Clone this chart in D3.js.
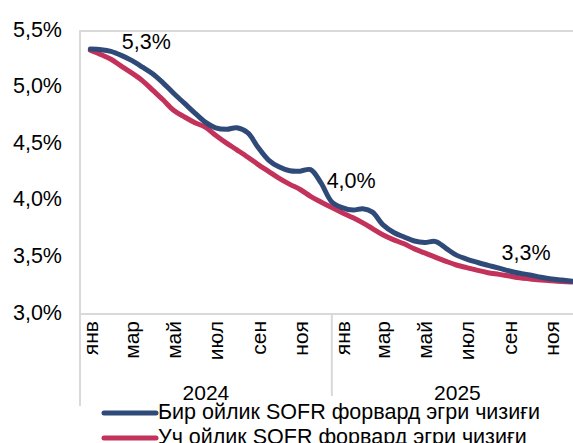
<!DOCTYPE html>
<html>

<head>
    <meta charset="utf-8">
    <script src="https://d3js.org/d3.v7.min.js"></script>
    <style>
        body { margin: 0; background: #fff; }
        text { font-family: "Liberation Sans", Arial, sans-serif; fill: #000; }
    </style>
</head>

<body>
    <svg id="chart" width="573" height="443"></svg>
    <script>
        // half-month points, mid-Jan 2024 .. mid-Dec 2025
        const dates = [
            "2024-01-16", "2024-02-01", "2024-02-15", "2024-03-01", "2024-03-16", "2024-04-01",
            "2024-04-16", "2024-05-01", "2024-05-16", "2024-06-01", "2024-06-16", "2024-07-01",
            "2024-07-16", "2024-08-01", "2024-08-16", "2024-09-01", "2024-09-16", "2024-10-01",
            "2024-10-16", "2024-11-01", "2024-11-16", "2024-12-01", "2024-12-16", "2025-01-01",
            "2025-01-16", "2025-02-01", "2025-02-15", "2025-03-01", "2025-03-16", "2025-04-01",
            "2025-04-16", "2025-05-01", "2025-05-16", "2025-06-01", "2025-06-16", "2025-07-01",
            "2025-07-16", "2025-08-01", "2025-08-16", "2025-09-01", "2025-09-16", "2025-10-01",
            "2025-10-16", "2025-11-01", "2025-11-16", "2025-12-01", "2025-12-16"
        ];
        // one-month SOFR forward curve, %
        const sofr1m = [
            5.34, 5.335, 5.32, 5.285, 5.24, 5.18, 5.12, 5.04, 4.95, 4.86, 4.775, 4.695,
            4.645, 4.632, 4.645, 4.60, 4.47, 4.36, 4.30, 4.265, 4.262, 4.275, 4.16, 3.99,
            3.94, 3.918, 3.93, 3.90, 3.79, 3.72, 3.68, 3.645, 3.632, 3.64, 3.58, 3.52,
            3.485, 3.455, 3.43, 3.405, 3.38, 3.36, 3.345, 3.325, 3.31, 3.30, 3.29
        ];
        // three-month SOFR forward curve, %
        const sofr3m = [
            5.33, 5.29, 5.25, 5.19, 5.13, 5.06, 4.975, 4.89, 4.80, 4.74, 4.69, 4.65,
            4.58, 4.51, 4.45, 4.385, 4.32, 4.26, 4.20, 4.145, 4.10, 4.04, 3.99, 3.94,
            3.895, 3.85, 3.805, 3.755, 3.70, 3.655, 3.62, 3.575, 3.54, 3.50, 3.465, 3.433,
            3.41, 3.385, 3.365, 3.35, 3.335, 3.32, 3.31, 3.30, 3.293, 3.287, 3.283
        ];
        const yTicks = [3.0, 3.5, 4.0, 4.5, 5.0, 5.5];
        const monthLabels = ["янв", "мар", "май", "июл", "сен", "ноя"];
        const years = ["2024", "2025"];
        const seriesNames = ["Бир ойлик SOFR форвард эгри чизиғи", "Уч ойлик SOFR форвард эгри чизиғи"];
        const seriesColors = ["#2f4a78", "#c3325a"];
        // data labels: point index on the one-month curve and text
        const pointLabels = [
            { i: 0, text: "5,3%" },
            { i: 24, text: "4,0%" },
            { i: 42, text: "3,3%" }
        ];

        const parse = d3.timeParse("%Y-%m-%d");
        const svg = d3.select("#chart");

        const plotLeft = 80, plotTop = 31, plotBottom = 314, plotRight = 583;
        const x = d3.scaleTime()
            .domain([new Date(2024, 0, 1), new Date(2026, 0, 1)])
            .range([plotLeft, plotRight]);
        const y = d3.scaleLinear()
            .domain([3.0, 5.5])
            .range([plotBottom, plotTop]);

        const fmt = v => d3.format(".1f")(v).replace(".", ",") + "%";

        // plot border
        svg.append("rect")
            .attr("x", plotLeft).attr("y", plotTop)
            .attr("width", plotRight - plotLeft + 10).attr("height", plotBottom - plotTop)
            .attr("fill", "none")
            .attr("stroke", "#d9d9d9")
            .attr("stroke-width", 2);

        // y labels
        yTicks.forEach(t => {
            svg.append("text")
                .attr("x", 62)
                .attr("y", y(t))
                .attr("text-anchor", "end")
                .attr("dominant-baseline", "middle")
                .attr("font-size", "21.5px")
                .text(fmt(t));
        });

        // category axis: month labels, year groups and separators
        years.forEach((yr, k) => {
            monthLabels.forEach((m, j) => {
                const xm = x(new Date(+yr, j * 2, 16));
                svg.append("text")
                    .attr("transform", `translate(${xm + 7.5},${321}) rotate(-90)`)
                    .attr("text-anchor", "end")
                    .attr("font-size", "21px")
                    .text(m);
            });
            const x0 = x(new Date(+yr, 0, 1));
            const x1 = x(new Date(+yr + 1, 0, 1));
            svg.append("text")
                .attr("x", (x0 + x1) / 2)
                .attr("y", 400)
                .attr("text-anchor", "middle")
                .attr("font-size", "21px")
                .text(yr);
            svg.append("line")
                .attr("x1", x0).attr("x2", x0)
                .attr("y1", plotBottom).attr("y2", k === 0 ? 406 : 396)
                .attr("stroke", "#d9d9d9")
                .attr("stroke-width", 2);
        });

        // lines
        const series = [sofr1m, sofr3m];
        const line = d3.line()
            .x((d, i) => x(parse(dates[i])))
            .y(d => y(d))
            .curve(d3.curveCatmullRom.alpha(0.5));

        [1, 0].forEach(s => {
            svg.append("path")
                .datum(series[s])
                .attr("d", line)
                .attr("fill", "none")
                .attr("stroke", seriesColors[s])
                .attr("stroke-width", 5)
                .attr("stroke-linecap", "round")
                .attr("stroke-linejoin", "round");
        });

        // data labels
        const labelOffsets = [[56, -6], [9, -25], [-4, -21]];
        pointLabels.forEach((p, k) => {
            svg.append("text")
                .attr("x", x(parse(dates[p.i])) + labelOffsets[k][0])
                .attr("y", y(sofr1m[p.i]) + labelOffsets[k][1])
                .attr("text-anchor", "middle")
                .attr("dominant-baseline", "middle")
                .attr("font-size", "21.5px")
                .text(p.text);
        });

        // legend
        seriesNames.forEach((name, i) => {
            const ly = 413 + i * 25;
            svg.append("line")
                .attr("x1", 104).attr("x2", 156)
                .attr("y1", ly).attr("y2", ly)
                .attr("stroke", seriesColors[i])
                .attr("stroke-width", 5)
                .attr("stroke-linecap", "round");
            svg.append("text")
                .attr("x", 158)
                .attr("y", ly)
                .attr("dominant-baseline", "middle")
                .attr("font-size", "21.5px")
                .text(name);
        });
    </script>
</body>

</html>
